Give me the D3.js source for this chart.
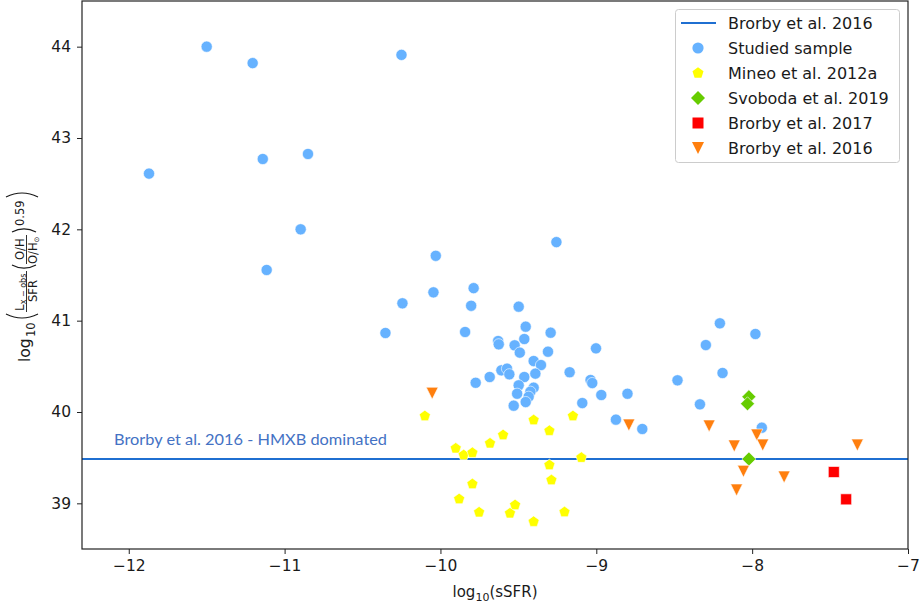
<!DOCTYPE html>
<html>
<head>
<meta charset="utf-8">
<script src="https://cdn.jsdelivr.net/npm/d3@7"></script>
<style>
  html, body { margin: 0; padding: 0; background: #fff; }
  svg { display: block; }
  text { font-family: "DejaVu Sans", sans-serif; fill: #1a1a1a; }
</style>
</head>
<body>
<svg id="chart" width="920" height="606"></svg>
<script>
// ---------------- data ----------------
const xTicks = [-12, -11, -10, -9, -8, -7];
const yTicks = [39, 40, 41, 42, 43, 44];
const brorbyLineY = 39.485;

const studiedSample = [
  [-11.87,42.61],[-11.50,44.00],[-11.205,43.82],[-11.14,42.77],[-10.85,42.825],[-10.25,43.91],
  [-10.897,42.0],[-11.115,41.555],[-10.353,40.865],[-10.244,41.19],[-10.045,41.31],[-10.03,41.71],
  [-9.256,41.86],[-9.787,41.356],[-9.803,41.163],[-9.498,41.153],[-9.842,40.876],[-9.453,40.934],
  [-9.293,40.868],[-9.630,40.777],[-9.626,40.741],[-9.462,40.799],[-9.524,40.73],[-9.491,40.65],
  [-9.31,40.66],[-9.002,40.697],[-9.402,40.558],[-9.355,40.514],[-9.609,40.456],[-9.573,40.474],
  [-9.558,40.413],[-9.684,40.383],[-9.774,40.32],[-9.462,40.383],[-9.391,40.42],[-9.171,40.435],
  [-9.037,40.35],[-9.026,40.317],[-9.498,40.292],[-9.402,40.266],[-9.423,40.222],[-9.508,40.2],
  [-9.434,40.167],[-9.453,40.109],[-9.53,40.069],[-8.968,40.186],[-9.09,40.098],[-8.80,40.2],
  [-8.874,39.916],[-8.705,39.814],[-8.207,40.971],[-7.979,40.854],[-8.297,40.733],[-8.190,40.427],
  [-8.479,40.347],[-8.335,40.084],[-7.938,39.828]
];
const mineo2012a = [
  [-10.1,39.956],[-9.402,39.912],[-9.15,39.956],[-9.301,39.795],[-9.598,39.748],[-9.682,39.657],
  [-9.902,39.602],[-9.851,39.529],[-9.795,39.554],[-9.096,39.5],[-9.301,39.42],[-9.288,39.255],
  [-9.795,39.212],[-9.88,39.047],[-9.521,38.982],[-9.752,38.902],[-9.554,38.891],[-9.204,38.905],
  [-9.402,38.799]
];
const svoboda2019 = [[-8.021,40.167],[-8.03,40.09],[-8.021,39.485]];
const brorby2017 = [[-7.476,39.343],[-7.397,39.044]];
const brorby2016 = [
  [-10.053,40.205],[-8.791,39.857],[-8.276,39.847],[-7.970,39.748],[-7.932,39.638],[-8.115,39.628],
  [-7.325,39.638],[-8.056,39.35],[-7.795,39.288],[-8.10,39.146]
];

const legendLabels = ["Brorby et al. 2016","Studied sample","Mineo et al. 2012a","Svoboda et al. 2019","Brorby et al. 2017","Brorby et al. 2016"];
const annotationText = "Brorby et al. 2016 - HMXB dominated";

// ---------------- layout ----------------
const svg = d3.select("#chart");
const L = 82, R = 908, T = 1, B = 549;
const x = d3.scaleLinear().domain([-12.3, -7]).range([L, R]);
const y = d3.scaleLinear().domain([38.5, 44.5]).range([B, T]);

const colBlue = "#66b2ff", colYellow = "#ffff00", colGreen = "#66cc00", colRed = "#ff0000", colOrange = "#ff7f0e", colLine = "#1f6fd1";

// marker paths
function pentagon(r) {
  const pts = d3.range(5).map(i => {
    const a = -Math.PI/2 + i * 2*Math.PI/5;
    return [r*Math.cos(a), r*Math.sin(a)];
  });
  return "M" + pts.map(p => p.join(",")).join("L") + "Z";
}
function triDown(w) { const h = w*0.5; return `M${-h},${-h}L${h},${-h}L0,${h}Z`; }
function diamond(r) { return `M0,${-r}L${r},0L0,${r}L${-r},0Z`; }
function square(s) { const h = s/2; return `M${-h},${-h}H${h}V${h}H${-h}Z`; }

// clip
svg.append("defs").append("clipPath").attr("id","clip").append("rect")
  .attr("x", L).attr("y", T).attr("width", R-L).attr("height", B-T);

const plot = svg.append("g").attr("clip-path","url(#clip)");

// horizontal line
plot.append("line")
  .attr("x1", L).attr("x2", R).attr("y1", y(brorbyLineY)).attr("y2", y(brorbyLineY))
  .attr("stroke", colLine).attr("stroke-width", 2);

svg.append("text").attr("x", 114).attr("y", 445)
  .attr("textLength", 273).attr("lengthAdjust","spacingAndGlyphs")
  .style("font-family", "Lato, 'Open Sans', sans-serif").style("font-size", "16px")
  .style("fill", "#4472c4").text(annotationText);

// scatter series
plot.selectAll(".blue").data(studiedSample).join("circle")
  .attr("cx", d => x(d[0])).attr("cy", d => y(d[1])).attr("r", 5.6)
  .attr("fill", colBlue).attr("stroke", "#fff").attr("stroke-width", 0.6);

plot.selectAll(".yel").data(mineo2012a).join("path")
  .attr("d", pentagon(5.8))
  .attr("transform", d => `translate(${x(d[0])},${y(d[1])})`)
  .attr("fill", colYellow).attr("stroke", "#fff").attr("stroke-width", 0.6);

plot.selectAll(".grn").data(svoboda2019).join("path")
  .attr("d", diamond(7))
  .attr("transform", d => `translate(${x(d[0])},${y(d[1])})`)
  .attr("fill", colGreen).attr("stroke", "#fff").attr("stroke-width", 0.6);

plot.selectAll(".red").data(brorby2017).join("path")
  .attr("d", square(11))
  .attr("transform", d => `translate(${x(d[0])},${y(d[1])})`)
  .attr("fill", colRed).attr("stroke", "#fff").attr("stroke-width", 0.6);

plot.selectAll(".org").data(brorby2016).join("path")
  .attr("d", triDown(12))
  .attr("transform", d => `translate(${x(d[0])},${y(d[1])})`)
  .attr("fill", colOrange).attr("stroke", "#fff").attr("stroke-width", 0.6);

// frame
svg.append("rect").attr("x", L).attr("y", T).attr("width", R-L).attr("height", B-T)
  .attr("fill","none").attr("stroke","#222").attr("stroke-width",1.2);

// axes
const xAxis = d3.axisBottom(x).tickValues(xTicks).tickSize(5).tickPadding(6)
  .tickFormat(d => d3.format("d")(d).replace("-", "\u2212"));
const gx = svg.append("g").attr("transform", `translate(0,${B})`).call(xAxis);
gx.select(".domain").remove();
gx.selectAll("text").style("font-family","DejaVu Sans").style("font-size","15.5px").attr("fill","#1a1a1a");
gx.selectAll("line").attr("stroke","#222");

const yAxis = d3.axisLeft(y).tickValues(yTicks).tickSize(5).tickPadding(6).tickFormat(d3.format("d"));
const gy = svg.append("g").attr("transform", `translate(${L},0)`).call(yAxis);
gy.select(".domain").remove();
gy.selectAll("text").style("font-family","DejaVu Sans").style("font-size","15.5px").attr("fill","#1a1a1a");
gy.selectAll("line").attr("stroke","#222");

// x label
const xl = svg.append("text").attr("x", 495).attr("y", 597).attr("text-anchor","middle").style("font-size","15px");
xl.append("tspan").text("log");
xl.append("tspan").attr("dy", 4).style("font-size","11px").text("10");
xl.append("tspan").attr("dy", -4).text("(sSFR)");

// y label (rotated mathtext)
const yl = svg.append("g").attr("transform", "rotate(-90)");
function t(u, v, s, size) {
  return yl.append("text").attr("x", u).attr("y", v).style("font-size", size + "px").text(s);
}
function paren(u0, w, v0, v1, open) {
  const vm = (v0 + v1) / 2;
  const d = open ? `M${u0+w},${v0}Q${u0-w*0.6},${vm} ${u0+w},${v1}` : `M${u0},${v0}Q${u0+w*1.6},${vm} ${u0},${v1}`;
  yl.append("path").attr("d", d).attr("fill","none").attr("stroke","#1a1a1a").attr("stroke-width",1.2);
}
t(-362, 30, "log", 15.5);
t(-337, 34.5, "10", 11.5);
paren(-319, 5, 6, 38, true);
// fraction 1
const n1 = t(-311, 23.5, "", 12);
n1.append("tspan").text("L");
n1.append("tspan").attr("dy", 2).style("font-size","8px").text("x \u2212 obs");
yl.append("line").attr("x1", -312).attr("x2", -271).attr("y1", 26.5).attr("y2", 26.5).attr("stroke","#1a1a1a").attr("stroke-width",0.9);
t(-302, 36.5, "SFR", 11.5);
paren(-269, 4, 12, 36, true);
// fraction 2
t(-260, 23.5, "O/H", 11.5);
yl.append("line").attr("x1", -264).attr("x2", -235).attr("y1", 26.5).attr("y2", 26.5).attr("stroke","#1a1a1a").attr("stroke-width",0.9);
const d2 = t(-264, 36.5, "O/H", 11.5);
d2.append("tspan").attr("dy", 2).style("font-size","7px").text("\u2299");
paren(-232, 4, 12, 36, false);
t(-226, 24, "0.59", 11.5);
paren(-197, 5, 6, 38, false);

// legend
const lg = svg.append("g");
lg.append("rect").attr("x", 675.5).attr("y", 9.5).attr("width", 224).attr("height", 153).attr("rx", 3)
  .attr("fill","#fff").attr("fill-opacity",0.8).attr("stroke","#cccccc");
const rowY = i => 23 + i * 25;
lg.append("line").attr("x1", 681).attr("x2", 716).attr("y1", rowY(0)).attr("y2", rowY(0)).attr("stroke", colLine).attr("stroke-width", 2);
lg.append("circle").attr("cx", 698).attr("cy", rowY(1)).attr("r", 5.6).attr("fill", colBlue);
lg.append("path").attr("d", pentagon(5.8)).attr("transform", `translate(698,${rowY(2)})`).attr("fill", colYellow);
lg.append("path").attr("d", diamond(7)).attr("transform", `translate(698,${rowY(3)})`).attr("fill", colGreen);
lg.append("path").attr("d", square(11)).attr("transform", `translate(698,${rowY(4)})`).attr("fill", colRed);
lg.append("path").attr("d", triDown(12)).attr("transform", `translate(698,${rowY(5)})`).attr("fill", colOrange);
lg.selectAll(".lt").data(legendLabels).join("text")
  .attr("x", 728).attr("y", (d, i) => rowY(i) + 5.5).style("font-size", "16px").text(d => d);
</script>
</body>
</html>
